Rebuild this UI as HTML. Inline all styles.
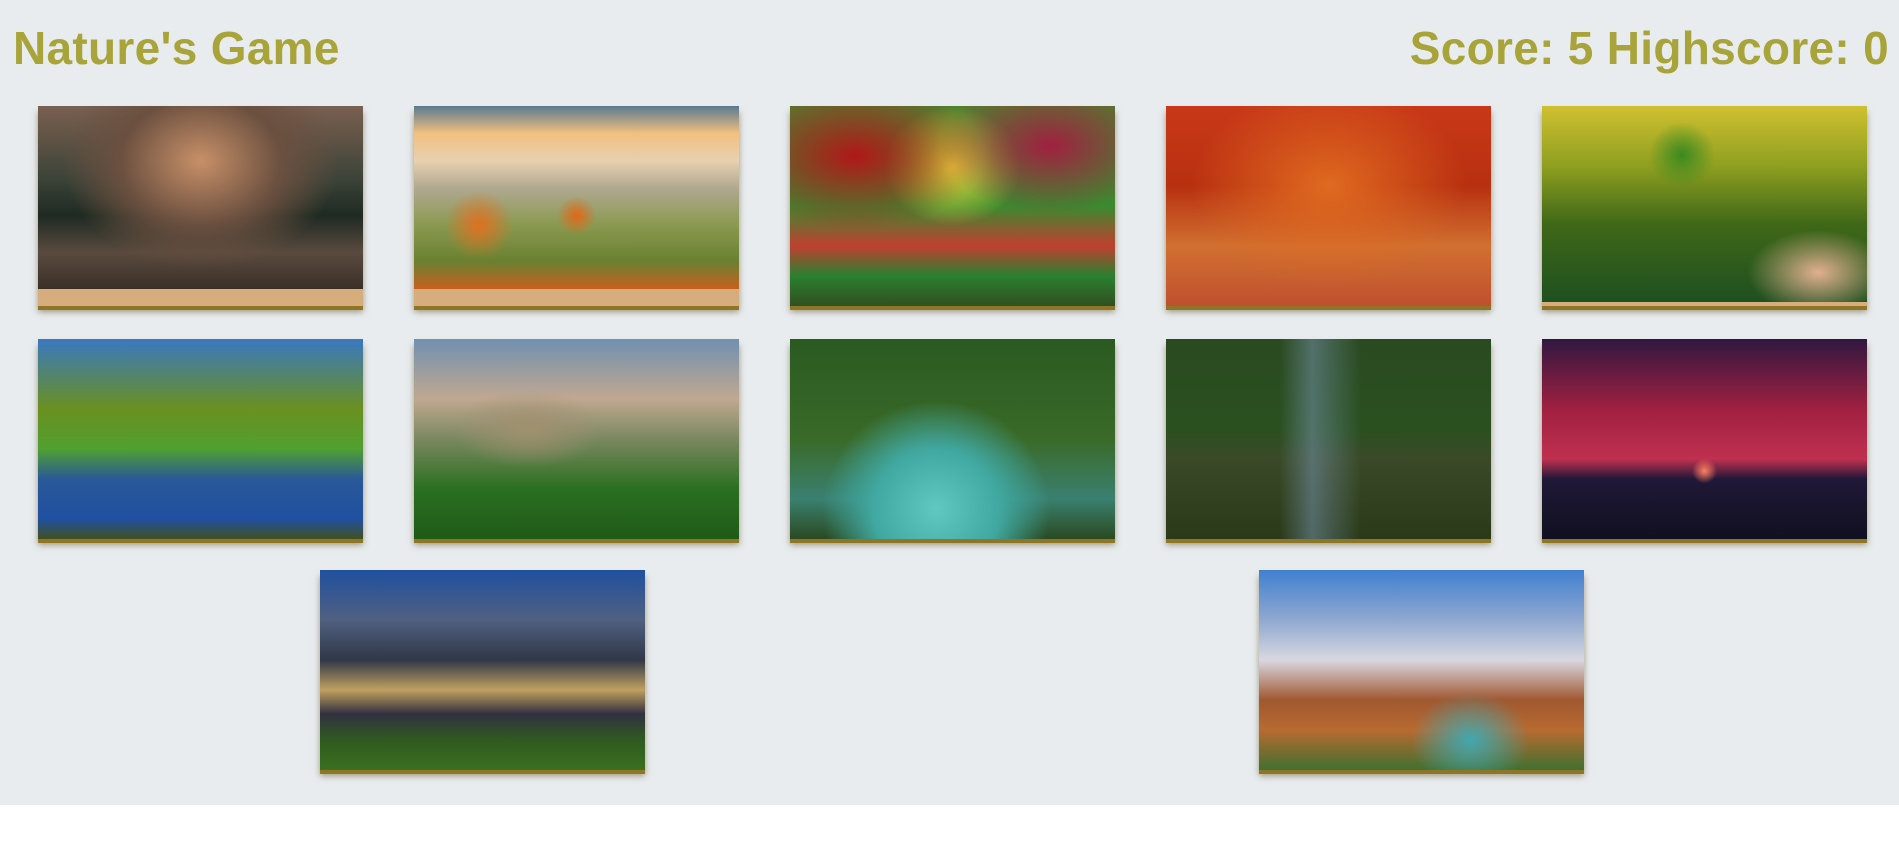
<!DOCTYPE html>
<html><head><meta charset="utf-8"><style>
html,body{margin:0;padding:0;width:1899px;height:851px;background:#fff;overflow:hidden}
#bg{position:absolute;left:0;top:0;width:1899px;height:805px;background:#e8ecef}
h1,.score{position:absolute;margin:0;font-family:"Liberation Sans",sans-serif;font-weight:bold;font-size:46px;letter-spacing:0.3px;color:#a8a43a;top:22px;line-height:52px}
h1{left:13px}
.score{right:10px}
.card{position:absolute;width:325px;height:200px;box-shadow:0 4px 0 #8f7626,0 6px 6px rgba(90,70,20,.5);background:#d8ad7e;overflow:hidden}
.img{position:absolute;left:0;top:0;width:100%;height:100%}
</style></head><body>
<div id="bg"></div>
<h1>Nature's Game</h1>
<div class="score">Score: 5 Highscore: 0</div>

<div class="card" style="left:38px;top:106px"><div class="img" style="height:183px;background:radial-gradient(ellipse at 50% 30%,#c89068 0,#6b5040 35%,transparent 60%),linear-gradient(180deg,#7a6050 0%,#3c4338 40%,#1e2a22 60%,#5a4a3e 80%,#3a3028 100%)"></div></div>
<div class="card" style="left:414px;top:106px"><div class="img" style="height:183px;background:radial-gradient(circle at 20% 65%,#e07020 0,transparent 12%),radial-gradient(circle at 50% 60%,#e06818 0,transparent 10%),linear-gradient(180deg,#5a7a90 0%,#f2c080 15%,#e8d0b0 30%,#b0a890 45%,#8a9a50 65%,#6a8030 85%,#c86020 100%)"></div></div>
<div class="card" style="left:790px;top:106px"><div class="img" style="background:radial-gradient(ellipse at 20% 25%,#b01818 0,transparent 35%),radial-gradient(ellipse at 80% 20%,#a02040 0,transparent 30%),radial-gradient(ellipse at 50% 30%,#e8e040 0,transparent 30%),linear-gradient(180deg,#508030 0%,#3a8a30 50%,#c04030 70%,#2a8030 85%,#305020 100%)"></div></div>
<div class="card" style="left:1166px;top:106px"><div class="img" style="background:radial-gradient(ellipse at 50% 40%,#e06a20 0,transparent 60%),linear-gradient(180deg,#c83818 0%,#b83010 40%,#d07030 70%,#c05030 100%)"></div></div>
<div class="card" style="left:1542px;top:106px"><div class="img" style="height:196px;background:radial-gradient(circle at 43% 25%,#3a8a20 0,transparent 14%),radial-gradient(ellipse at 85% 85%,#e0b090 0,transparent 18%),linear-gradient(180deg,#d0c030 0%,#90a020 30%,#406818 60%,#1e5020 100%)"></div></div>

<div class="card" style="left:38px;top:339px"><div class="img" style="background:linear-gradient(180deg,#3a78c0 0%,#6a9020 35%,#50a030 55%,#2a5898 70%,#2050a0 90%,#405020 100%)"></div></div>
<div class="card" style="left:414px;top:339px"><div class="img" style="background:radial-gradient(ellipse at 35% 45%,#a09070 0,transparent 25%),linear-gradient(180deg,#7090b0 0%,#c0a890 30%,#7a8860 50%,#2a7020 75%,#1e5a18 100%)"></div></div>
<div class="card" style="left:790px;top:339px"><div class="img" style="background:radial-gradient(ellipse at 45% 85%,#60c8c0 0,#40a8a0 25%,transparent 45%),linear-gradient(180deg,#2a5a20 0%,#3a6a28 50%,#3a8070 80%,#2a4a20 100%)"></div></div>
<div class="card" style="left:1166px;top:339px"><div class="img" style="background:linear-gradient(90deg,transparent 0,transparent 35%,rgba(120,150,180,.5) 45%,transparent 60%),linear-gradient(180deg,#2a4a20 0%,#2a5020 45%,#3a4a28 60%,#2a3a18 100%)"></div></div>
<div class="card" style="left:1542px;top:339px"><div class="img" style="background:radial-gradient(circle at 50% 66%,#ff8060 0,transparent 6%),linear-gradient(180deg,#301840 0%,#a02040 35%,#c03050 60%,#201838 70%,#101020 100%)"></div></div>

<div class="card" style="left:320px;top:570px"><div class="img" style="background:linear-gradient(180deg,#2050a0 0%,#506080 25%,#303848 45%,#c0a060 60%,#303040 72%,#305a20 85%,#3a7020 100%)"></div></div>
<div class="card" style="left:1259px;top:570px"><div class="img" style="background:radial-gradient(ellipse at 65% 85%,#40a8b0 0,transparent 20%),linear-gradient(180deg,#4080d0 0%,#90a8d0 25%,#d8d8e0 45%,#a05830 65%,#b86a30 80%,#407030 100%)"></div></div>
</body></html>
